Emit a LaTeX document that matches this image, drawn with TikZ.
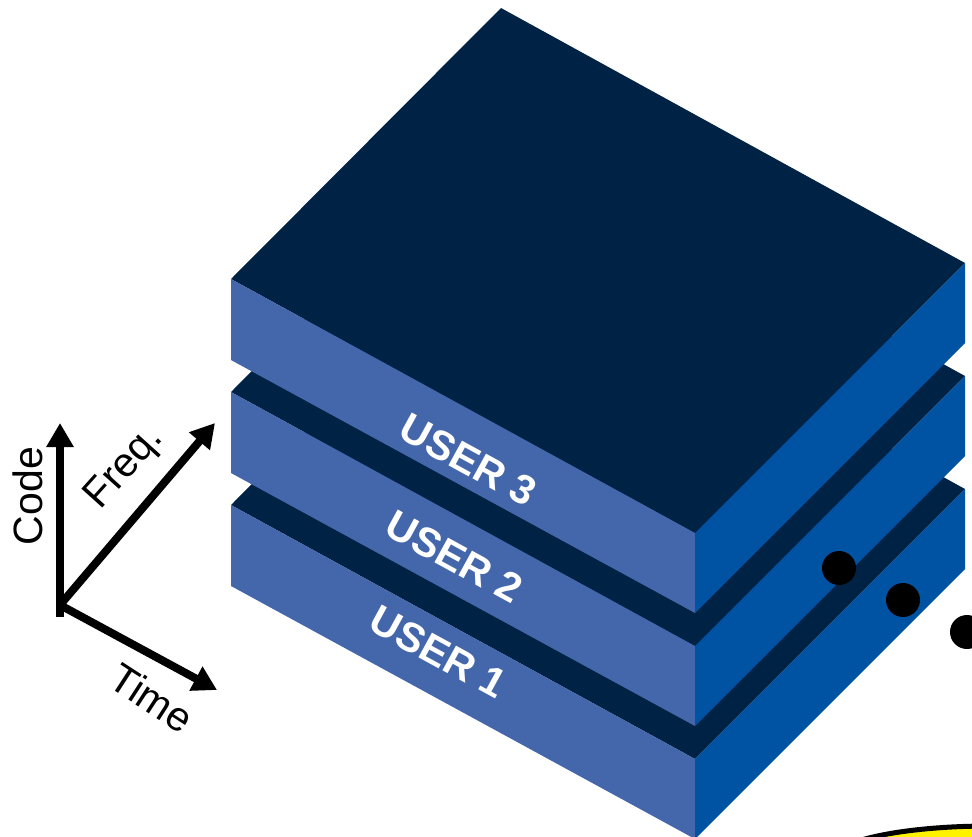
\documentclass[tikz,border=0pt]{standalone}
\usepackage{fontspec}
\setmainfont{Liberation Sans}
\usetikzlibrary{arrows.meta}

\definecolor{navy}{HTML}{002244}
\definecolor{paleblue}{HTML}{4467AC}
\definecolor{deepblue}{HTML}{0052A3}

\begin{document}
\begin{tikzpicture}[x=1pt, y=-1pt, thick]

   \tikzstyle{topside}=[fill=navy]
   \tikzstyle{leftside}=[fill=paleblue]
   \tikzstyle{rightside}=[fill=deepblue]
   \tikzstyle{userlabel}=[text=white, font=\fontsize{41}{48}\selectfont\bfseries, rotate=-28.7]
   \tikzstyle{axis}=[line width=8pt, -{Triangle[length=24pt, width=26pt]}]
   \tikzstyle{axislabel}=[font=\fontsize{41}{48}\selectfont]

   \useasboundingbox (0,0) rectangle (972,836);
   \clip (0,0) rectangle (972,836);

   % slabs, lowest first
   \foreach \d/\n/\lx/\ly in {226/1/438/652, 113/2/454/557, 0/3/468/460}{
      \fill[topside]   (231,279+\d) -- (501,8+\d) -- (965,263+\d) -- (695,533+\d) -- cycle;
      \fill[leftside]  (231,279+\d) -- (695,533+\d) -- (695,613+\d) -- (231,360+\d) -- cycle;
      \fill[rightside] (695,533+\d) -- (965,263+\d) -- (965,343+\d) -- (695,613+\d) -- cycle;
      \node[userlabel] (user\n) at (\lx,\ly) {USER \n};
   }

   % dots
   \fill (839,568) circle (17);
   \fill (903,600) circle (17);
   \fill (967,632) circle (17);

   % yellow ellipse
   \draw[line width=5pt, fill=yellow] (990,859) ellipse (157 and 33);

   % axes
   \coordinate (o) at (60,605);
   \coordinate (stub) at (60,617);
   \coordinate (code) at (60,423);
   \coordinate (freq) at (215,423);
   \coordinate (time) at (217,690);

   \draw[axis] (stub) -- (code);
   \draw[axis] (o) -- (freq);
   \draw[axis] (o) -- (time);

   \node[axislabel, rotate=90] (codelbl) at (28,496) {Code};
   \node[axislabel, rotate=48] (freqlbl) at (125,468) {Freq.};
   \node[axislabel, rotate=-33] (timelbl) at (152,698) {Time};

\end{tikzpicture}
\end{document}
